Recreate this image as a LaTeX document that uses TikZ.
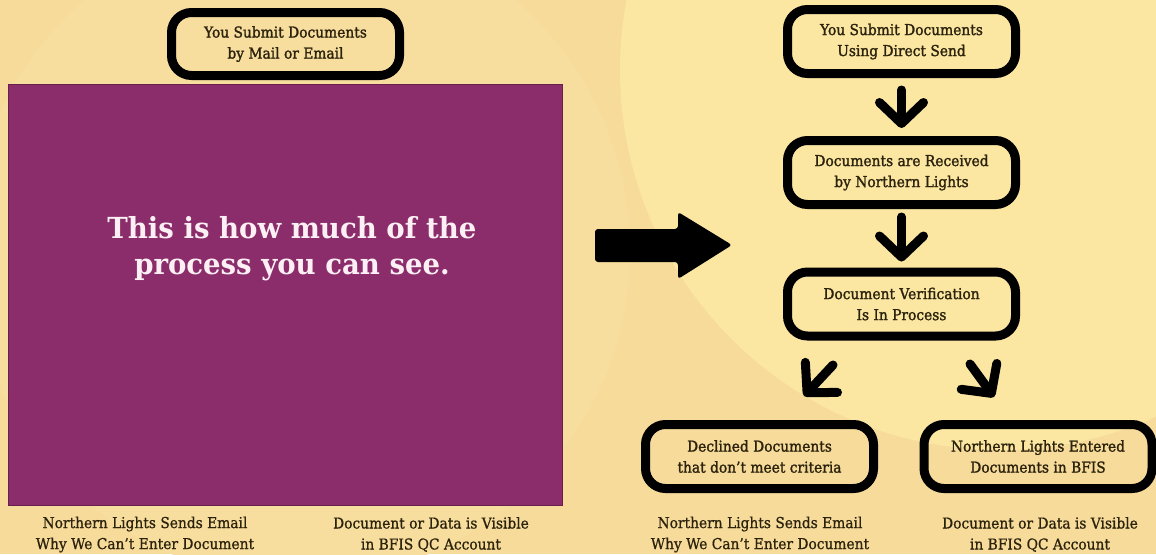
\documentclass[tikz,border=0pt]{standalone}
\usepackage{fontspec}
\setmainfont{DejaVu Serif}[FakeStretch=0.92,Ligatures=TeX]
\newfontfamily\boxfont{DejaVu Serif}[FakeStretch=0.92,FakeBold=1.5,Ligatures=TeX]
\newfontfamily\notefont{DejaVu Serif}[FakeStretch=0.92,FakeBold=0.8,Ligatures=TeX]
\newfontfamily\titlefont{DejaVu Serif}[FakeStretch=0.95,Ligatures=TeX]
\usetikzlibrary{arrows.meta}
\definecolor{bgA}{HTML}{F7DB9B}
\definecolor{bgB}{HTML}{FBE6A2}
\definecolor{bgC}{HTML}{F8DE9E}
\definecolor{plum}{HTML}{8B2D6B}
\definecolor{plumedge}{HTML}{6A1E4E}
\definecolor{ink}{HTML}{2B220C}
\definecolor{titleink}{HTML}{FDF0F5}
\begin{document}
\begin{tikzpicture}[x=1pt,y=-1pt,
  stepbox/.style={draw=black, line width=9pt, rounded corners=20pt,
    minimum width=228pt, minimum height=64pt, align=center,
    font=\boxfont\fontsize{15}{21}\selectfont, text=ink, inner sep=0pt},
  note/.style={align=center, font=\notefont\fontsize{15}{21}\selectfont, text=ink, inner sep=0pt},
  conn/.style={line width=9pt, line cap=round, line join=round,
    -{Straight Barb[round,length=21pt,width=44pt]}}]
\useasboundingbox (0,0) rectangle (1156,554);
% background
\fill[bgA] (0,0) rectangle (1156,554);
\fill[bgC] (300,250) circle (330);
\fill[bgB] (1000,70) circle (380);
% purple panel
\node[draw=plumedge, line width=1pt, fill=plum, minimum width=554pt, minimum height=421pt, inner sep=0pt] (panel) at (285,294.5) {};
\node[font=\titlefont\bfseries\fontsize{29}{36}\selectfont, text=titleink, align=center] (title) at (292,249) {This is how much of the\\process you can see.};
% left side
\node[stepbox, minimum height=63pt] (m0) at (285.5,44) {You Submit Documents\\by Mail or Email};
\node[note] (n1) at (145,534.5) {Northern Lights Sends Email\\Why We Can’t Enter Document};
\node[note] (n2) at (431,534.5) {Document or Data is Visible\\in BFIS QC Account};
% big arrow
\fill[black, rounded corners=3pt] (595,229) -- (678,229) -- (678,212) -- (732,245) -- (678,279) -- (678,262) -- (595,262) -- cycle;
% right flow
\node[stepbox] (s1) at (901.5,41.5) {You Submit Documents\\Using Direct Send};
\node[stepbox] (s2) at (901.5,172.5) {Documents are Received\\by Northern Lights};
\node[stepbox] (s3) at (901.5,304) {Document Verification\\Is In Process};
\node[stepbox] (s4) at (759.5,456.5) {Declined Documents\\that don’t meet criteria};
\node[stepbox] (s5) at (1038,456.5) {Northern Lights Entered\\Documents in BFIS};
\node[note] (n3) at (760,534.5) {Northern Lights Sends Email\\Why We Can’t Enter Document};
\node[note] (n4) at (1040,534.5) {Document or Data is Visible\\in BFIS QC Account};
\coordinate (d1a) at (833,365);
\coordinate (d1b) at (804,396);
\coordinate (d2a) at (970,364);
\coordinate (d2b) at (994,397);
\draw[conn] ([yshift=-12pt]s1.south) -- ([yshift=8pt]s2.north);
\draw[conn] ([yshift=-8pt]s2.south) -- ([yshift=6pt]s3.north);
\draw[conn] (d1a) -- (d1b);
\draw[conn] (d2a) -- (d2b);
\end{tikzpicture}
\end{document}
